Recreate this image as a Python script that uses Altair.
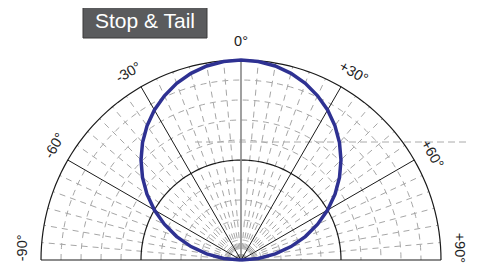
import altair as alt
import pandas as pd
import numpy as np

# ---- data ----
pattern_angles = [-90, -85, -80, -75, -70, -65, -60, -55, -50, -45, -40, -35, -30, -25, -20, -15, -10, -5,
                  0, 5, 10, 15, 20, 25, 30, 35, 40, 45, 50, 55, 60, 65, 70, 75, 80, 85, 90]
pattern_values = [0.0, 0.087, 0.174, 0.259, 0.342, 0.423, 0.5, 0.574, 0.643, 0.707, 0.766, 0.819, 0.866,
                  0.906, 0.94, 0.966, 0.985, 0.996, 1.0, 0.996, 0.985, 0.966, 0.94, 0.906, 0.866, 0.819,
                  0.766, 0.707, 0.643, 0.574, 0.5, 0.423, 0.342, 0.259, 0.174, 0.087, 0.0]

dashed_rings = [0.1, 0.2, 0.3, 0.4, 0.6, 0.7, 0.8, 0.9]
solid_rings = [0.5, 1.0]
dashed_spokes = [a for a in range(-85, 90, 5) if a not in (-60, -30, 0, 30, 60)]
solid_spokes = [-60, -30, 30, 60]
center_spoke = [0]

label_text = ["-90°", "-60°", "-30°", "0°", "+30°", "+60°", "+90°"]
label_pos_angle = [-86.8, -58.5, -31, 0, 31, 61, 86.8]
label_rot = [270, 300, 330, 0, 30, 60, 90]
label_r = 1.09

ref_level = 0.59
ref_from, ref_to = -0.23, 1.18

title_text = "Stop & Tail"

# ---- tables ----
sweep = np.arange(-90, 90.1, 2)

def rings(levels):
    rows = []
    for lv in levels:
        for a in sweep:
            rows.append({"r": lv, "ang": a, "g": f"r{lv}"})
    return pd.DataFrame(rows)

def spokes(angles):
    rows = []
    for a in angles:
        rows.append({"r": 0.0, "ang": a, "g": f"s{a}", "o": 0})
        rows.append({"r": 1.0, "ang": a, "g": f"s{a}", "o": 1})
    return pd.DataFrame(rows)

pattern_df = pd.DataFrame({"ang": pattern_angles, "r": pattern_values})
labels_df = pd.DataFrame({"t": label_text, "ang": label_pos_angle, "rot": label_rot, "r": label_r})
base_df = pd.DataFrame({"r": [1.0, 1.0], "ang": [-90, 90], "o": [0, 1]})
ref_df = pd.DataFrame({"x": [ref_from, ref_to], "y": [ref_level, ref_level]})

xs = alt.Scale(domain=[-1, 1], nice=False, zero=False)
ys = alt.Scale(domain=[0, 1], nice=False, zero=False)

def polar(ch):
    return ch.transform_calculate(
        px="datum.r * sin(datum.ang * PI / 180)",
        py="datum.r * cos(datum.ang * PI / 180)",
    )

def enc(ch, order="ang", detail=True):
    kw = dict(
        x=alt.X("px:Q", scale=xs, axis=None),
        y=alt.Y("py:Q", scale=ys, axis=None),
        order=alt.Order(f"{order}:Q"),
    )
    if detail:
        kw["detail"] = "g:N"
    return ch.encode(**kw)

grid_gray = "#a6a6a6"

dash_rings = enc(polar(alt.Chart(rings(dashed_rings)).mark_line(
    color=grid_gray, strokeWidth=1, strokeDash=[6, 5])))
dash_spokes = enc(polar(alt.Chart(spokes(dashed_spokes)).mark_line(
    color=grid_gray, strokeWidth=1, strokeDash=[6, 5])), order="o")
ref_line = alt.Chart(ref_df).mark_line(color="#aaaaaa", strokeWidth=1, strokeDash=[7, 4]).encode(
    x=alt.X("x:Q", scale=xs, axis=None), y=alt.Y("y:Q", scale=ys, axis=None))
sol_rings = enc(polar(alt.Chart(rings(solid_rings)).mark_line(color="#1a1a1a", strokeWidth=1.2)))
sol_spokes = enc(polar(alt.Chart(spokes(solid_spokes)).mark_line(color="#1a1a1a", strokeWidth=1)), order="o")
cen_spoke = enc(polar(alt.Chart(spokes(center_spoke)).mark_line(color="#888888", strokeWidth=1.6)), order="o")
baseline = enc(polar(alt.Chart(base_df).mark_line(color="#1a1a1a", strokeWidth=1.2)), order="o", detail=False)

pattern = enc(polar(alt.Chart(pattern_df).mark_line(color="#2e3192", strokeWidth=3.5)), detail=False)

labels = polar(alt.Chart(labels_df).mark_text(
    font="Liberation Sans", fontSize=14.5, color="#222222", align="center", baseline="middle")).encode(
    x=alt.X("px:Q", scale=xs, axis=None),
    y=alt.Y("py:Q", scale=ys, axis=None),
    text="t:N",
    angle=alt.Angle("rot:Q", scale=None),
)

title_box = alt.Chart(pd.DataFrame({"t": [title_text]})).mark_rect(
    fill="#5a5b5d", stroke="#3a3a3a", strokeWidth=1).encode(
    x=alt.value(42), x2=alt.value(166), y=alt.value(-55), y2=alt.value(-22))
title_txt = alt.Chart(pd.DataFrame({"t": [title_text]})).mark_text(
    font="Liberation Sans", fontSize=21, color="white", align="center", baseline="middle").encode(
    x=alt.value(104), y=alt.value(-38), text="t:N")

chart = alt.layer(
    dash_rings, dash_spokes, ref_line, sol_rings, sol_spokes, cen_spoke, baseline,
    pattern, labels, title_box, title_txt
).properties(
    width=400, height=200,
    padding={"left": 33, "top": 52, "right": 28, "bottom": 5},
    autosize=alt.AutoSizeParams(type="none"),
).configure_view(stroke=None)

chart.save("out.html", embed_options={"renderer": "svg", "actions": False})
